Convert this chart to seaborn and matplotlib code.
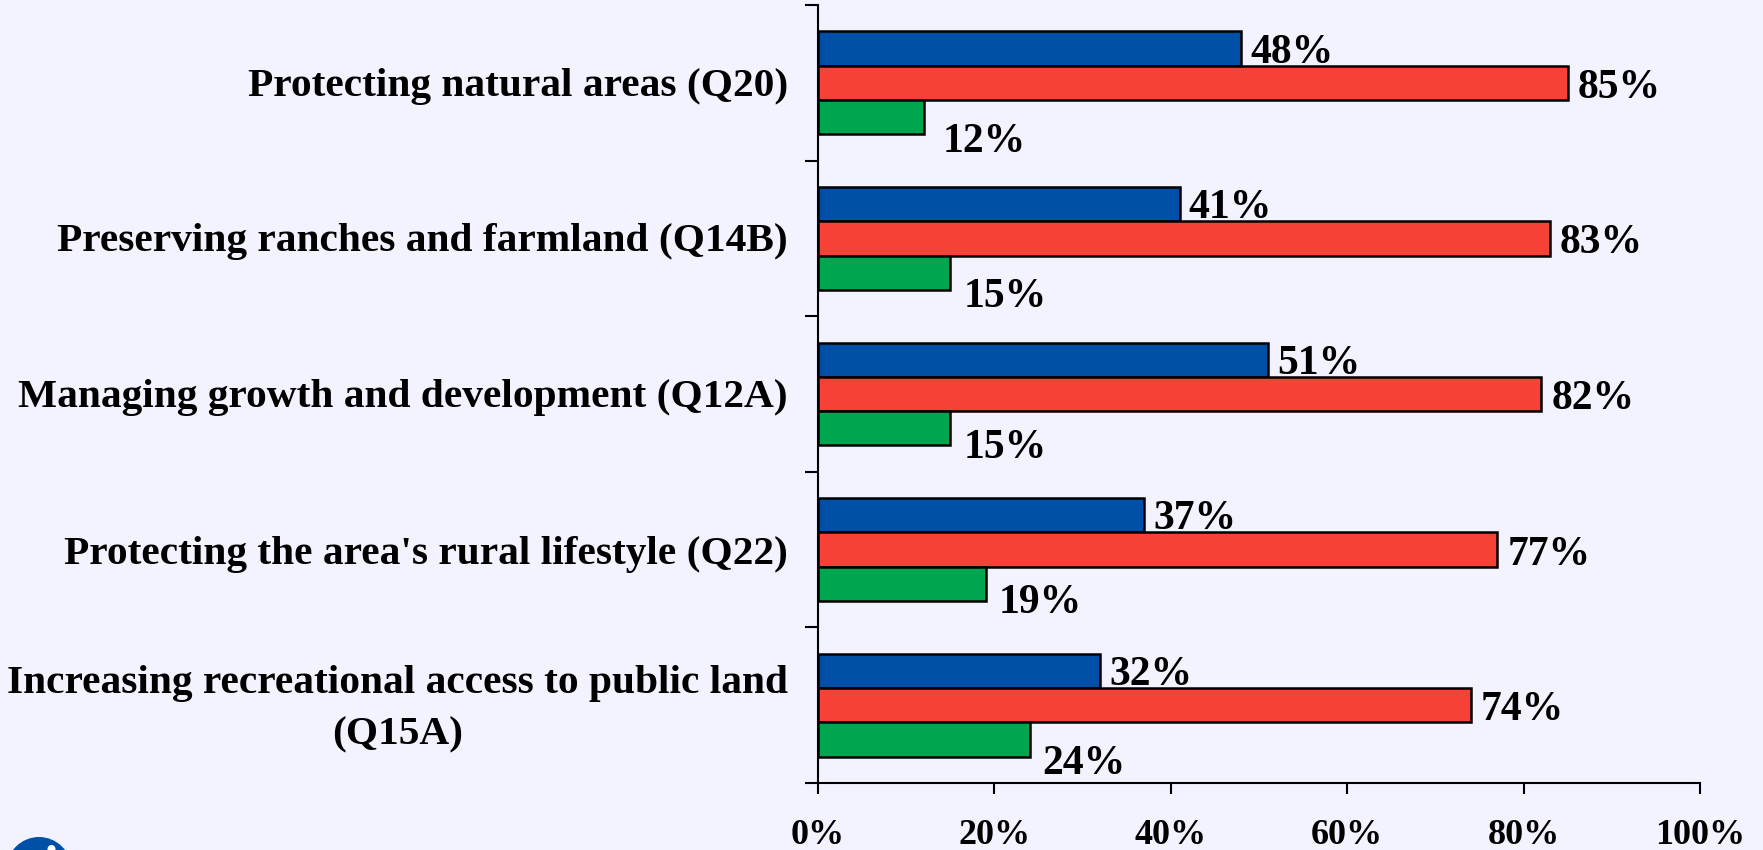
import pandas as pd
import matplotlib
matplotlib.use('Agg')
import matplotlib.pyplot as plt
from matplotlib.patches import Circle
import seaborn as sns

# values
categories = ['Protecting natural areas (Q20)',
              'Preserving ranches and farmland (Q14B)',
              'Managing growth and development (Q12A)',
              "Protecting the area's rural lifestyle (Q22)",
              'Increasing recreational access to public land\n(Q15A)']
blue_vals = [48, 41, 51, 37, 32]
red_vals = [85, 83, 82, 77, 74]
green_vals = [12, 15, 15, 19, 24]
series_names = ['blue', 'red', 'green']
series_colors = ['#0050A8', '#F64137', '#00A64F']
xticks = [0, 20, 40, 60, 80, 100]

BG = '#F3F3FF'
W, H = 1763, 850

sns.set_theme(style='ticks')
plt.rcParams['font.family'] = ['Liberation Serif', 'DejaVu Serif']

df = pd.DataFrame({'category': categories, 'blue': blue_vals, 'red': red_vals, 'green': green_vals})
long_df = df.melt(id_vars='category', var_name='series', value_name='pct')

fig = plt.figure(figsize=(W / 100, H / 100), dpi=100, facecolor=BG)
ax = fig.add_axes([818 / W, 1 - 783 / H, (1700 - 818) / W, (783 - 5) / H], facecolor=BG)

sns.barplot(data=long_df, y='category', x='pct', hue='series', hue_order=series_names,
            palette=series_colors, order=categories, width=0.66, dodge=True, saturation=1,
            edgecolor='black', linewidth=1.8, legend=False, ax=ax)

ax.set_xlim(0, 100)
ax.set_ylim(len(categories) - 0.5, -0.5)
ax.set_xlabel('')
ax.set_ylabel('')

sns.despine(ax=ax)
ax.spines['left'].set_linewidth(1.5)
ax.spines['bottom'].set_linewidth(1.5)
ax.spines['left'].set_color('black')
ax.spines['bottom'].set_color('black')

# ticks sit between the categories on y, labels are drawn separately
ax.set_yticks([i - 0.5 for i in range(len(categories) + 1)])
ax.set_yticklabels([])
ax.tick_params(axis='y', length=9.5, width=1.5, color='black', direction='out')
ax.set_xticks(xticks)
ax.set_xticklabels([f'{t}%' for t in xticks], fontsize=26, fontweight='bold', color='black')
ax.tick_params(axis='x', length=8, width=1.5, color='black', direction='out', pad=18)

cat_dy = [4, 3, 4, 5, 4]
for i, cat in enumerate(categories):
    ax.annotate(cat, xy=(0, i), xycoords=('axes fraction', 'data'), xytext=(-30, -cat_dy[i]),
                textcoords='offset pixels', ha='right', va='center',
                fontsize=29.8, fontweight='bold', color='black', multialignment='center',
                linespacing=1.5)

# value labels, the green ones sit lower and further out like the original
label_dx = [[9] * 5, [10] * 5, [19, 13, 13, 13, 13]]
label_dy = [[4] * 5, [5] * 5, [25, 24, 20, 19, 25]]
for container, dxs, dys in zip(ax.containers, label_dx, label_dy):
    for bar, dx, dy in zip(container, dxs, dys):
        val = bar.get_width()
        ax.annotate(f'{val:.0f}%', xy=(val, bar.get_y() + bar.get_height() / 2),
                    xytext=(dx, -dy), textcoords='offset pixels',
                    ha='left', va='center', fontsize=30, fontweight='bold', color='black')

# logo circle, cut off by the bottom of the image
fig.patches.append(Circle((39, H - 869.5), 32.5, transform=None, facecolor='#0050A8', edgecolor='none'))
fig.patches.append(Circle((51.5, H - 849), 4, transform=None, facecolor='white', edgecolor='none'))

fig.savefig('out.png', dpi=100, facecolor=BG)
